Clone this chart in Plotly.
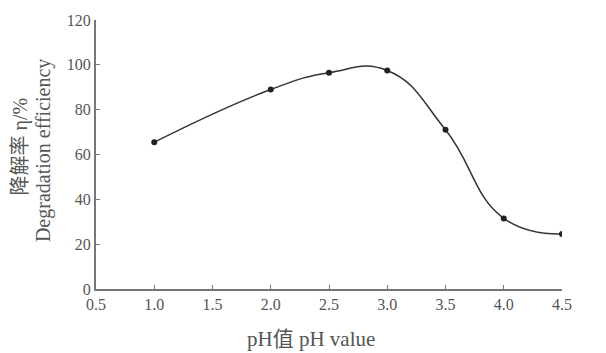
import plotly.graph_objects as go

ph = [1.0, 2.0, 2.5, 3.0, 3.5, 4.0, 4.5]
efficiency = [65.5, 89.0, 96.5, 97.5, 71.0, 31.5, 24.5]

x_ticks = [0.5, 1.0, 1.5, 2.0, 2.5, 3.0, 3.5, 4.0, 4.5]
x_tick_labels = ["0.5", "1.0", "1.5", "2.0", "2.5", "3.0", "3.5", "4.0", "4.5"]
y_ticks = [0, 20, 40, 60, 80, 100, 120]
y_tick_labels = ["0", "20", "40", "60", "80", "100", "120"]

y_title_cn = "降解率 η/%"
y_title_en = "Degradation efficiency"
x_title = "pH值 pH value"

font_family = "Liberation Serif, Noto Sans CJK SC, serif"
gray = "#555555"

fig = go.Figure()
fig.add_trace(go.Scatter(
    x=ph, y=efficiency, mode="lines+markers",
    line=dict(color="#333333", width=1.5, shape="spline", smoothing=1.3),
    marker=dict(color="#222222", size=6),
    showlegend=False,
))

fig.update_layout(
    width=606, height=353,
    margin=dict(l=96, r=44, t=16, b=64),
    plot_bgcolor="white", paper_bgcolor="white",
    font=dict(family=font_family, color=gray, size=16),
    xaxis=dict(range=[0.5, 4.5], tickvals=x_ticks, ticktext=x_tick_labels,
               showline=True, linecolor="#777777", linewidth=2,
               ticks="inside", ticklen=4, tickcolor="#777777",
               showgrid=False, zeroline=False, tickfont=dict(size=16, color=gray)),
    yaxis=dict(range=[0, 120], tickvals=y_ticks, ticktext=y_tick_labels,
               showline=True, linecolor="#777777", linewidth=2,
               ticks="inside", ticklen=4, tickcolor="#777777",
               showgrid=False, zeroline=False, tickfont=dict(size=16, color=gray)),
    annotations=[
        dict(text=y_title_cn, xref="paper", yref="paper", x=-0.163, y=0.53,
             xanchor="center", yanchor="middle", textangle=-90, showarrow=False,
             font=dict(size=20, color=gray, family=font_family)),
        dict(text=y_title_en, xref="paper", yref="paper", x=-0.114, y=0.516,
             xanchor="center", yanchor="middle", textangle=-90, showarrow=False,
             font=dict(size=20, color=gray, family=font_family)),
        dict(text=x_title, xref="paper", yref="paper", x=0.461, y=-0.187,
             xanchor="center", yanchor="middle", showarrow=False,
             font=dict(size=21, color=gray, family=font_family)),
    ],
)

fig.write_html("out.html")
